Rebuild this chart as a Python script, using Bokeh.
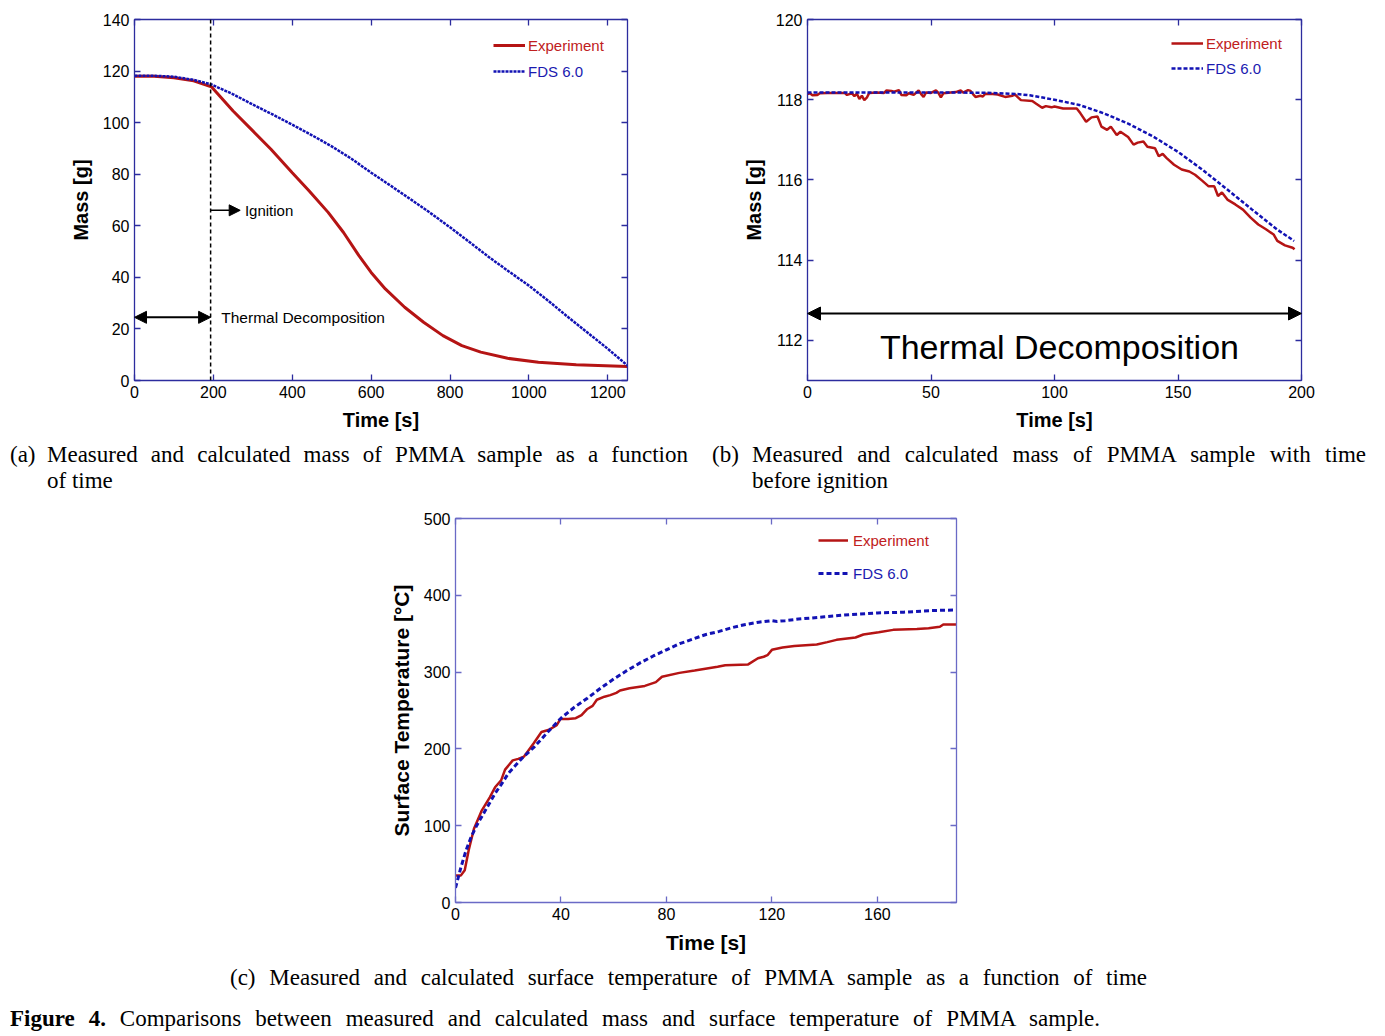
from bokeh.plotting import figure
from bokeh.models import (LinearAxis, FixedTicker, Range1d, Legend, LegendItem, Span,
                          Arrow, NormalHead, Label, Div, Spacer)
from bokeh.layouts import column, row
from bokeh.embed import file_html
from bokeh.resources import INLINE

# ---------------- data ----------------
# (a) mass vs time (whole test)
t_a_exp = [0, 50, 100, 150, 195, 250, 300, 346, 400, 443, 491, 530, 569, 600, 636, 685,
           733, 782, 830, 878, 946, 1024, 1120, 1250]
mass_exp_a = [118.0, 118.0, 117.4, 116.2, 113.9, 104.5, 96.8, 89.7, 80.6, 73.5, 65.2, 57.4,
              48.4, 41.9, 35.5, 28.4, 22.6, 17.4, 13.5, 11.0, 8.6, 7.1, 6.1, 5.4]
t_a_fds = [0, 50, 100, 150, 195, 250, 300, 350, 400, 450, 500, 550, 600, 650, 700, 750,
           800, 850, 900, 950, 1000, 1050, 1100, 1150, 1200, 1250]
mass_fds_a = [118.2, 118.2, 117.8, 116.6, 114.8, 111.0, 107.0, 103.2, 99.2, 95.1, 90.8, 86.0,
              80.6, 75.5, 70.3, 65.0, 59.4, 53.6, 47.7, 42.2, 36.8, 30.8, 24.5, 18.4, 12.3, 5.8]
x_ticks_a = [0, 200, 400, 600, 800, 1000, 1200]
y_ticks_a = [0, 20, 40, 60, 80, 100, 120, 140]
ignition_time = 193

# (b) mass before ignition
t_b_exp = [0, 1, 2, 4, 5, 8, 12, 15, 16, 18, 19, 20, 21, 22, 23, 24, 25, 28, 31, 32, 34, 35,
           37, 38, 40, 41, 43, 45, 46, 47, 48, 50, 52, 53, 54, 55, 58, 60, 62, 63, 65, 66,
           67, 68, 70, 71, 72, 75, 77, 80, 83, 84, 85, 86.4, 91, 92.6, 95, 96.5, 98.8, 100,
           103.5, 109, 110.5, 112.8, 115, 117.4, 119, 121.3, 122.8, 125.2, 126.7, 129.8, 132,
           133.7, 136, 137.6, 140.7, 142.2, 143.8, 145.3, 148.4, 151.5, 154.6, 156.9, 160,
           162.4, 164.7, 166.2, 167.8, 170, 173.2, 176.3, 179.4, 182.5, 185.6, 188.7, 190.2,
           193.3, 196.4, 197.2]
mass_exp_b = [118.14, 118.16, 118.11, 118.12, 118.16, 118.17, 118.17, 118.17, 118.12, 118.16,
              118.09, 118.15, 118.02, 118.10, 117.99, 118.05, 118.17, 118.18, 118.17, 118.23,
              118.22, 118.20, 118.24, 118.12, 118.11, 118.16, 118.12, 118.23, 118.14, 118.07,
              118.18, 118.17, 118.23, 118.17, 118.06, 118.16, 118.18, 118.19, 118.23, 118.18,
              118.24, 118.22, 118.14, 118.07, 118.10, 118.08, 118.15, 118.14, 118.13, 118.07,
              118.10, 118.13, 118.07, 117.99, 117.97, 117.90, 117.80, 117.84, 117.81, 117.83,
              117.78, 117.78, 117.66, 117.45, 117.56, 117.58, 117.33, 117.25, 117.33, 117.12,
              117.20, 117.07, 116.88, 116.93, 116.96, 116.83, 116.79, 116.59, 116.65, 116.55,
              116.38, 116.26, 116.21, 116.13, 115.97, 115.84, 115.84, 115.60, 115.69, 115.51,
              115.39, 115.26, 115.06, 114.89, 114.77, 114.64, 114.48, 114.37, 114.31, 114.27]
t_b_fds = [0, 20, 40, 60, 75, 85, 90, 100, 110, 120, 130, 140, 150, 160, 170, 180, 190, 197]
mass_fds_b = [118.18, 118.18, 118.18, 118.18, 118.17, 118.14, 118.11, 118.0, 117.87, 117.66,
              117.40, 117.08, 116.70, 116.25, 115.76, 115.26, 114.77, 114.48]
x_ticks_b = [0, 50, 100, 150, 200]
y_ticks_b = [112, 114, 116, 118, 120]

# (c) surface temperature
t_c_exp = [0, 2, 3.5, 5, 7, 10, 13, 15, 17.3, 18.8, 21.7, 23.8, 26, 29.6, 32.6, 35.5, 38.4,
           39.8, 42.7, 45.6, 47.8, 50, 52, 53.6, 56.5, 58.7, 61, 62.4, 66, 71.8, 76, 78.3,
           84.9, 90.7, 99.4, 102.3, 111, 114.7, 116.9, 118.3, 120, 124, 128.5, 137, 141,
           144.5, 151.7, 154.7, 160.5, 166, 175, 179.4, 183.7, 185, 190]
temp_exp_c = [35, 35, 42, 68, 96, 120, 137, 150, 159, 173, 185, 187, 190, 207, 222, 225, 231,
              239, 239, 240, 244, 252, 256, 264, 268, 270, 273, 276, 279, 282, 287, 294,
              299, 302, 307, 309, 310, 318, 320, 322, 329, 332, 334, 336, 339,
              342, 345, 349, 352, 355, 356, 357, 359, 362, 362]
t_c_fds = [0, 2, 4, 6, 8, 10, 12, 15, 18, 20, 25, 30, 35, 40, 45, 50, 55, 60, 65, 70, 75, 80,
           85, 90, 95, 100, 105, 110, 115, 120, 122, 125, 130, 140, 150, 160, 170, 180, 190]
temp_fds_c = [19, 45, 68, 86, 100, 112, 124, 142, 157, 168, 187, 203, 222, 240, 254, 266, 279,
              291, 302, 312, 321, 329, 337, 343, 349, 353, 358, 362, 365, 367, 366, 367,
              369, 372, 375, 377, 378, 380, 381]
x_ticks_c = [0, 40, 80, 120, 160]
y_ticks_c = [0, 100, 200, 300, 400, 500]

# ---------------- style ----------------
FONT = "Liberation Sans"
SERIF = "Liberation Serif"
AX_AB = "#2c2c9e"
AX_C = "#6a6ac6"
RED = "#b51414"
BLUE = "#1212b4"
RED_TXT = "#c02020"
BLUE_TXT = "#1a1ab0"


def make_fig(width, height, borders, xr, yr, xticks, yticks, axis_color, xlabel, ylabel,
             label_size="20px"):
    left, right, top, bottom = borders
    p = figure(width=width, height=height, x_range=Range1d(*xr), y_range=Range1d(*yr),
               output_backend="svg", toolbar_location=None,
               x_axis_type=None, y_axis_type=None,
               min_border_left=left, min_border_right=right,
               min_border_top=top, min_border_bottom=bottom)
    p.grid.visible = False
    p.outline_line_color = axis_color
    p.background_fill_color = "white"
    p.border_fill_color = "white"
    for side, ticks, label, show in [("below", xticks, xlabel, True),
                                     ("above", xticks, None, False),
                                     ("left", yticks, ylabel, True),
                                     ("right", yticks, None, False)]:
        ax = LinearAxis(ticker=FixedTicker(ticks=ticks),
                        axis_line_color=axis_color, axis_line_width=1.3,
                        major_tick_line_color=axis_color, major_tick_line_width=1.3,
                        major_tick_in=6, major_tick_out=0,
                        minor_tick_line_color=None,
                        major_label_text_font=FONT, major_label_text_font_size="16px",
                        major_label_text_color="black", major_label_standoff=5)
        if label:
            ax.axis_label = label
            ax.axis_label_text_font = FONT
            ax.axis_label_text_font_style = "bold"
            ax.axis_label_text_font_size = label_size
            ax.axis_label_text_color = "black"
            ax.axis_label_standoff = 8
        if not show:
            ax.major_label_text_color = None
            ax.major_label_text_font_size = "1px"
            ax.major_label_standoff = 0
        p.add_layout(ax, side)
    return p


def add_legend(p, r, text, color, x, y, glyph_width=32, standoff=3):
    leg = Legend(items=[LegendItem(label=text, renderers=[r])], location=(x, y),
                 padding=0, margin=0, spacing=0, border_line_color=None,
                 background_fill_alpha=0, glyph_width=glyph_width, glyph_height=20,
                 label_height=20, label_standoff=standoff, label_text_font=FONT,
                 label_text_font_size="15px", label_text_color=color)
    p.add_layout(leg, "center")


# ---------------- (a) ----------------
pa = make_fig(696, 432, (126, 77, 11, 60), (0, 1250), (0, 140), x_ticks_a, y_ticks_a,
              AX_AB, "Time [s]", "Mass [g]")
ra_e = pa.line(t_a_exp, mass_exp_a, line_color=RED, line_width=3)
ra_f = pa.line(t_a_fds, mass_fds_a, line_color=BLUE, line_width=2.5, line_dash="3 1")
pa.add_layout(Span(location=ignition_time, dimension="height", line_color="black",
                   line_width=1.5, line_dash="4 3"))
pa.add_layout(Arrow(x_start=ignition_time, y_start=66, x_end=268, y_end=66,
                    line_color="black", line_width=1.5,
                    end=NormalHead(size=11, fill_color="black", line_color="black")))
pa.add_layout(Label(x=280, y=66, text="Ignition", text_font=FONT, text_font_size="15px",
                    text_baseline="middle", text_color="black"))
pa.add_layout(Arrow(x_start=0, y_start=24.5, x_end=ignition_time, y_end=24.5,
                    line_color="black", line_width=2,
                    start=NormalHead(size=12, fill_color="black", line_color="black"),
                    end=NormalHead(size=12, fill_color="black", line_color="black")))
pa.add_layout(Label(x=220, y=24.5, text="Thermal Decomposition", text_font=FONT,
                    text_font_size="15.5px", text_baseline="middle", text_color="black"))
add_legend(pa, ra_e, "Experiment", RED_TXT, 359, 325)
add_legend(pa, ra_f, "FDS 6.0", BLUE_TXT, 359, 299)

# ---------------- (b) ----------------
pb = make_fig(673, 432, (103, 76, 10, 60), (0, 200), (111, 120), x_ticks_b, y_ticks_b,
              AX_AB, "Time [s]", "Mass [g]")
rb_e = pb.line(t_b_exp, mass_exp_b, line_color=RED, line_width=2.5)
rb_f = pb.line(t_b_fds, mass_fds_b, line_color=BLUE, line_width=2.5, line_dash="4 2")
pb.add_layout(Arrow(x_start=0, y_start=112.67, x_end=200, y_end=112.67,
                    line_color="black", line_width=2,
                    start=NormalHead(size=13, fill_color="black", line_color="black"),
                    end=NormalHead(size=13, fill_color="black", line_color="black")))
pb.add_layout(Label(x=102, y=111.84, text="Thermal Decomposition", text_font=FONT,
                    text_font_size="34px", text_align="center", text_baseline="middle",
                    text_color="black"))
add_legend(pb, rb_e, "Experiment", RED_TXT, 364, 327)
add_legend(pb, rb_f, "FDS 6.0", BLUE_TXT, 364, 302)

# ---------------- (c) ----------------
pc = make_fig(616, 460, (85, 30, 22, 54), (0, 190), (0, 500), x_ticks_c, y_ticks_c,
              AX_C, "Time [s]", "Surface Temperature [°C]", label_size="21px")
rc_e = pc.line(t_c_exp, temp_exp_c, line_color=RED, line_width=2.5)
rc_f = pc.line(t_c_fds, temp_fds_c, line_color=BLUE, line_width=3, line_dash="5 3")
add_legend(pc, rc_e, "Experiment", RED_TXT, 363, 352, glyph_width=30, standoff=5)
add_legend(pc, rc_f, "FDS 6.0", BLUE_TXT, 363, 319, glyph_width=30, standoff=5)

# ---------------- captions ----------------
cap_style = f"font-family:'{SERIF}';font-size:23px;line-height:26px;color:#000;"
just = "text-align:justify;text-align-last:justify;"

div_a = Div(width=696, height=56, margin=0, text=(
    f"<div style=\"{cap_style}padding:2px 0 0 2px;display:flex;width:678px;\">"
    "<div style='width:37px;flex:none'>(a)</div>"
    f"<div style='width:641px;flex:none'><div style='width:641px;{just}'>Measured and calculated mass of PMMA sample as a function</div>"
    "<div>of time</div></div></div>"))
div_b = Div(width=673, height=56, margin=0, text=(
    f"<div style=\"{cap_style}padding:2px 0 0 8px;display:flex;width:654px;\">"
    "<div style='width:40px;flex:none'>(b)</div>"
    f"<div style='width:614px;flex:none'><div style='width:614px;{just}'>Measured and calculated mass of PMMA sample with time</div>"
    "<div>before ignition</div></div></div>"))
div_c = Div(width=1369, height=38, margin=0, text=(
    f"<div style=\"{cap_style}line-height:24px;padding:10px 0 0 222px;\">"
    f"<div style='width:917px;{just}'>(c) Measured and calculated surface temperature of PMMA sample as a function of time</div></div>"))
div_fig = Div(width=1369, height=40, margin=0, text=(
    f"<div style=\"{cap_style}line-height:24px;padding:13px 0 0 2px;\">"
    f"<div style='width:1090px;{just}'><b>Figure 4.</b> Comparisons between measured and calculated mass and surface temperature of PMMA sample.</div></div>"))

inner = column(
    row(pa, pb),
    row(div_a, div_b),
    row(Spacer(width=362, height=460), pc),
    div_c,
    div_fig,
)
layout = column(Spacer(width=8, height=8), row(Spacer(width=8, height=10), inner))

with open("out.html", "w") as f:
    f.write(file_html(layout, INLINE, "Figure 4"))
